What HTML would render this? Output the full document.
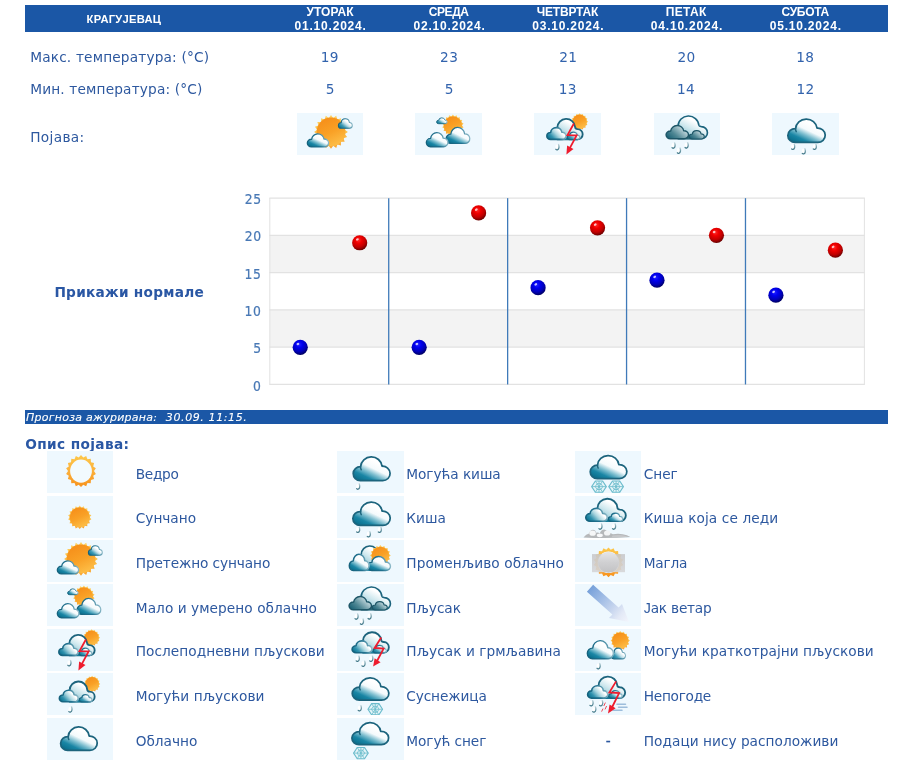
<!DOCTYPE html>
<html lang="sr"><head><meta charset="utf-8"><title>Прогноза - Крагујевац</title>
<style>
html,body{margin:0;padding:0;background:#fff;}
body{width:900px;height:768px;position:relative;overflow:hidden;
 font-family:"DejaVu Sans","Liberation Sans",sans-serif;color:#2d589f;}
.a{position:absolute;white-space:pre;}
.hdr{position:absolute;left:25px;top:5px;width:862.6px;height:27px;background:#1b57a6;}
.h{position:absolute;white-space:pre;color:#fff;font:bold 12px/13px "Liberation Sans",sans-serif;}
.t{font-size:13.7px;line-height:16px;}
.b{font-weight:bold;font-size:13.7px;line-height:16px;color:#2a57a4;}
.bar{position:absolute;left:25px;top:410px;width:862.6px;height:13.5px;background:#1b57a6;}
.bt{color:#fff;font-style:italic;font-size:11px;line-height:14px;-webkit-text-stroke:0.1px #fff;}
.ic{position:absolute;height:42.1px;background:#eef8fe;}
.is{position:absolute;width:66px;height:42px;}
.is svg{position:absolute;left:0;top:0;}
.yl{font-size:12.4px;line-height:14px;color:#4878b5;-webkit-text-stroke:0.2px #4878b5;transform:scaleY(1.1);transform-origin:center;}
</style></head>
<body>
<svg width="0" height="0" style="position:absolute;left:0;top:0" aria-hidden="true"><defs>
<linearGradient id="cg" x1="0.1" y1="0.92" x2="0.62" y2="0.22"><stop offset="0" stop-color="#0a6f8d"/><stop offset="0.25" stop-color="#1a86a5"/><stop offset="0.48" stop-color="#7fbfd0"/><stop offset="0.7" stop-color="#f4fafc"/><stop offset="1" stop-color="#fff"/></linearGradient>
<linearGradient id="cgf" x1="0" y1="0.8" x2="0.85" y2="0.3"><stop offset="0" stop-color="#0b7291"/><stop offset="0.25" stop-color="#2f91ad"/><stop offset="0.55" stop-color="#a9d5df"/><stop offset="0.85" stop-color="#fff"/></linearGradient>
<linearGradient id="cgs" x1="0.05" y1="0.85" x2="0.75" y2="0.25"><stop offset="0" stop-color="#0e7695"/><stop offset="0.3" stop-color="#3c9ab5"/><stop offset="0.6" stop-color="#c3e1ea"/><stop offset="0.85" stop-color="#fff"/></linearGradient>
<linearGradient id="cgb" x1="0.15" y1="0.9" x2="0.7" y2="0.1"><stop offset="0" stop-color="#86c3d2"/><stop offset="0.45" stop-color="#cfe8ee"/><stop offset="0.8" stop-color="#fff"/></linearGradient>
<linearGradient id="cgd" x1="0" y1="0.85" x2="0.9" y2="0.25"><stop offset="0" stop-color="#175f73"/><stop offset="0.4" stop-color="#4f8794"/><stop offset="0.8" stop-color="#a9c6cd"/><stop offset="1" stop-color="#c9dde2"/></linearGradient>
<linearGradient id="sg" x1="0.5" y1="0" x2="0.5" y2="1"><stop offset="0" stop-color="#f7921c"/><stop offset="0.45" stop-color="#faa528"/><stop offset="1" stop-color="#fec94e"/></linearGradient>
<linearGradient id="rg" x1="0.5" y1="0" x2="0.5" y2="1"><stop offset="0" stop-color="#fdc84a"/><stop offset="0.5" stop-color="#fbb03b"/><stop offset="1" stop-color="#f7921c"/></linearGradient>
<linearGradient id="cs" x1="0" y1="0.6" x2="1" y2="0.4"><stop offset="0" stop-color="#15627d"/><stop offset="0.55" stop-color="#227290"/><stop offset="0.85" stop-color="#6aa3b6"/><stop offset="1" stop-color="#9cc3d0"/></linearGradient>
<linearGradient id="sy" x1="0.5" y1="0" x2="0.5" y2="1"><stop offset="0" stop-color="#fdd164"/><stop offset="0.5" stop-color="#fcc24a"/><stop offset="1" stop-color="#f9a02b"/></linearGradient>
<linearGradient id="so" x1="0.25" y1="0.05" x2="0.7" y2="1"><stop offset="0" stop-color="#f68f1a"/><stop offset="0.5" stop-color="#f9a126"/><stop offset="1" stop-color="#fdc04a"/></linearGradient>
<linearGradient id="dg" x1="0.5" y1="0" x2="0.5" y2="1"><stop offset="0" stop-color="#b9d0d6"/><stop offset="0.45" stop-color="#7aa3af"/><stop offset="1" stop-color="#3f7686"/></linearGradient>
<linearGradient id="fg" x1="0" y1="0" x2="0" y2="1"><stop offset="0" stop-color="#c8c8ca"/><stop offset="1" stop-color="#d6d6d8"/></linearGradient>
<linearGradient id="fd" x1="0" y1="0" x2="0" y2="1"><stop offset="0" stop-color="#e6e6e8"/><stop offset="0.5" stop-color="#d0d0d2"/><stop offset="1" stop-color="#c2c2c4"/></linearGradient>
<linearGradient id="wg" gradientUnits="userSpaceOnUse" x1="14" y1="4" x2="54" y2="37"><stop offset="0" stop-color="#759fd9"/><stop offset="0.3" stop-color="#9dbae4"/><stop offset="0.6" stop-color="#c6d5ee"/><stop offset="0.8" stop-color="#e3e9f6"/><stop offset="1" stop-color="#f2f5fc"/></linearGradient>
<radialGradient id="gb" cx="0.42" cy="0.32" r="0.72"><stop offset="0" stop-color="#2020ff"/><stop offset="0.3" stop-color="#0000f0"/><stop offset="0.65" stop-color="#0000b8"/><stop offset="1" stop-color="#000050"/></radialGradient>
<radialGradient id="gr" cx="0.42" cy="0.32" r="0.72"><stop offset="0" stop-color="#ff2a2a"/><stop offset="0.3" stop-color="#f00000"/><stop offset="0.65" stop-color="#c00000"/><stop offset="1" stop-color="#5a0000"/></radialGradient>
</defs></svg>
<div class="hdr"></div>
<div id="city" class="a h" style="left:86.60px;top:13.2px;letter-spacing:0.245px;font-size:11.2px;">КРАГУЈЕВАЦ</div>
<div id="day0" class="a h" style="left:306.50px;top:5.8px;letter-spacing:0.050px;">УТОРАК</div>
<div id="date0" class="a h" style="left:294.50px;top:19.8px;letter-spacing:0.800px;">01.10.2024.</div>
<div id="mx0" class="a t" style="left:320.82px;top:48.8px;letter-spacing:0.350px;color:#3263ad;">19</div>
<div id="mn0" class="a t" style="left:325.75px;top:81.3px;letter-spacing:0.350px;color:#3263ad;">5</div>
<div class="ic" style="left:297.1px;top:113px;width:65.8px;"></div>
<div class="is" style="left:297px;top:113px;"><svg width="66" height="42" viewBox="0 0 66 42"><polygon points="34,2 36.19,5.05 39.22,2.83 40.37,6.4 43.93,5.23 43.92,8.98 47.67,8.97 46.5,12.53 50.07,13.68 47.85,16.71 50.9,18.9 47.85,21.09 50.07,24.12 46.5,25.27 47.67,28.83 43.92,28.82 43.93,32.57 40.37,31.4 39.22,34.97 36.19,32.75 34,35.8 31.81,32.75 28.78,34.97 27.63,31.4 24.07,32.57 24.08,28.82 20.33,28.83 21.5,25.27 17.93,24.12 20.15,21.09 17.1,18.9 20.15,16.71 17.93,13.68 21.5,12.53 20.33,8.97 24.08,8.98 24.07,5.23 27.63,6.4 28.78,2.83 31.81,5.05" fill="url(#sy)"/><circle cx="34" cy="18.9" r="14.36" fill="url(#so)"/><path d="M44.1,15.25A2.75,2.79 0 1 1 44.18,9.67A4.12,4.18 0 0 1 52.38,9.49A2.84,2.88 0 1 1 52.61,15.25Z" fill="url(#cgs)" stroke="url(#cs)" stroke-width="1.1" stroke-linejoin="round"/><path d="M14.56,33.95A4.11,3.85 0 1 1 14.68,26.26A6.16,5.77 0 0 1 26.96,26.01A4.25,3.98 0 1 1 27.3,33.95Z" fill="url(#cg)" stroke="url(#cs)" stroke-width="1.3" stroke-linejoin="round"/></svg></div>
<div id="day1" class="a h" style="left:428.85px;top:5.8px;letter-spacing:-0.463px;">СРЕДА</div>
<div id="date1" class="a h" style="left:413.50px;top:19.8px;letter-spacing:0.800px;">02.10.2024.</div>
<div id="mx1" class="a t" style="left:440.08px;top:48.8px;letter-spacing:0.350px;color:#3263ad;">23</div>
<div id="mn1" class="a t" style="left:444.75px;top:81.3px;letter-spacing:0.350px;color:#3263ad;">5</div>
<div class="ic" style="left:415.2px;top:113px;width:67.0px;"></div>
<div class="is" style="left:415.5px;top:113px;"><svg width="66" height="42" viewBox="0 0 66 42"><polygon points="36.9,1.6 38.46,3.57 40.59,2.25 41.38,4.64 43.84,4.13 43.77,6.64 46.25,7 45.32,9.33 47.54,10.52 45.86,12.4 47.54,14.28 45.32,15.47 46.25,17.8 43.77,18.16 43.84,20.67 41.38,20.16 40.59,22.55 38.46,21.23 36.9,23.2 35.34,21.23 33.21,22.55 32.42,20.16 29.96,20.67 30.03,18.16 27.55,17.8 28.48,15.47 26.26,14.28 27.94,12.4 26.26,10.52 28.48,9.33 27.55,7 30.03,6.64 29.96,4.13 32.42,4.64 33.21,2.25 35.34,3.57" fill="url(#sy)"/><circle cx="36.9" cy="12.4" r="9.18" fill="url(#so)"/><path d="M22.66,10.7A2.06,1.73 0 1 1 22.73,7.24A3.1,2.6 0 0 1 28.9,7.12A2.13,1.79 0 1 1 29.07,10.7Z" fill="url(#cgs)" stroke="url(#cs)" stroke-width="1" stroke-linejoin="round"/><path d="M34.67,30.45A4.62,4.67 0 1 1 34.8,21.11A6.92,7 0 0 1 48.6,20.81A4.77,4.83 0 1 1 48.98,30.45Z" fill="url(#cg)" stroke="url(#cs)" stroke-width="1.3" stroke-linejoin="round"/><path d="M14.48,33.75A4.23,4.14 0 1 1 14.6,25.47A6.34,6.21 0 0 1 27.23,25.2A4.37,4.28 0 1 1 27.58,33.75Z" fill="url(#cg)" stroke="url(#cs)" stroke-width="1.3" stroke-linejoin="round"/></svg></div>
<div id="day2" class="a h" style="left:536.70px;top:5.8px;letter-spacing:-0.179px;">ЧЕТВРТАК</div>
<div id="date2" class="a h" style="left:532.20px;top:19.8px;letter-spacing:0.800px;">03.10.2024.</div>
<div id="mx2" class="a t" style="left:559.14px;top:48.8px;letter-spacing:0.350px;color:#3263ad;">21</div>
<div id="mn2" class="a t" style="left:558.64px;top:81.3px;letter-spacing:0.350px;color:#3263ad;">13</div>
<div class="ic" style="left:534.3px;top:113px;width:66.3px;"></div>
<div class="is" style="left:534.7px;top:113px;"><svg width="66" height="42" viewBox="0 0 66 42"><polygon points="44.6,0.3 45.96,1.86 47.81,0.94 48.47,2.9 50.54,2.76 50.4,4.83 52.36,5.49 51.44,7.34 53,8.7 51.44,10.06 52.36,11.91 50.4,12.57 50.54,14.64 48.47,14.5 47.81,16.46 45.96,15.54 44.6,17.1 43.24,15.54 41.39,16.46 40.73,14.5 38.66,14.64 38.8,12.57 36.84,11.91 37.76,10.06 36.2,8.7 37.76,7.34 36.84,5.49 38.8,4.83 38.66,2.76 40.73,2.9 41.39,0.94 43.24,1.86" fill="url(#sy)"/><circle cx="44.6" cy="8.7" r="7.14" fill="url(#so)"/><path d="M22.3,26.28L22.3,14.71A8.93,8.89 0 0 1 40.13,14.09Q40.33,15.99 42.58,16.09A5.09,5.09 0 0 1 42.58,26.28Z" fill="url(#cgb)" stroke="#1c647d" stroke-width="1.85" stroke-linejoin="round"/><rect x="22.28" y="22.74" width="18.8" height="4.16" fill="#15809f"/><path d="M34.63,26.56A2.5,2.18 0 1 1 34.7,22.2A3.74,3.27 0 0 1 42.16,22.06A2.58,2.25 0 1 1 42.37,26.56Z" fill="url(#cgs)" stroke="url(#cs)" stroke-width="1.28" stroke-linejoin="round"/><path d="M15.55,26.4A3.75,3.46 0 1 1 15.66,19.48A5.63,5.19 0 0 1 26.88,19.26A3.88,3.58 0 1 1 27.19,26.4Z" fill="url(#cgf)" stroke="url(#cs)" stroke-width="1.6" stroke-linejoin="round"/><ellipse cx="21.9" cy="34" rx="1.5" ry="2.4" fill="#fff" opacity="0.95"/><path d="M23.6,31.5C24.3,33.4 24.3,36.4 22.4,36.8C21.7,36.9 21.2,36.7 20.9,36.3" fill="none" stroke="url(#dg)" stroke-width="1.3" stroke-linecap="round"/><path d="M38.9,10.5L32.5,22.1L41.6,22.3L34.82,35.08" fill="none" stroke="#ee1c2e" stroke-width="1.8" stroke-linejoin="miter"/><polygon points="31.4,41.4 32.13,32.49 38.47,35.91" fill="#ee1c2e"/></svg></div>
<div id="day3" class="a h" style="left:665.85px;top:5.8px;letter-spacing:0.312px;">ПЕТАК</div>
<div id="date3" class="a h" style="left:650.85px;top:19.8px;letter-spacing:0.800px;">04.10.2024.</div>
<div id="mx3" class="a t" style="left:677.55px;top:48.8px;letter-spacing:0.350px;color:#3263ad;">20</div>
<div id="mn3" class="a t" style="left:677.06px;top:81.3px;letter-spacing:0.350px;color:#3263ad;">14</div>
<div class="ic" style="left:653.9px;top:113px;width:66.1px;"></div>
<div class="is" style="left:654px;top:113px;"><svg width="66" height="42" viewBox="0 0 66 42"><path d="M24.12,25.68L24.12,12.84A10.38,9.91 0 0 1 44.85,12.14Q45.05,13.54 47.41,13.64A6.01,6.01 0 0 1 47.41,25.68Z" fill="url(#cgb)" stroke="#1c647d" stroke-width="1.65" stroke-linejoin="round"/><rect x="24.32" y="21.62" width="21.38" height="4.58" fill="#2a6676"/><path d="M38.26,25.94A2.9,2.47 0 1 1 38.35,21.01A4.36,3.7 0 0 1 47.03,20.85A3,2.55 0 1 1 47.27,25.94Z" fill="url(#cgd)" stroke="#1d5566" stroke-width="1.12" stroke-linejoin="round"/><path d="M16.55,25.8A4.35,3.89 0 1 1 16.68,18.03A6.52,5.83 0 0 1 29.67,17.77A4.49,4.02 0 1 1 30.03,25.8Z" fill="url(#cgd)" stroke="#1d5566" stroke-width="1.4" stroke-linejoin="round"/><ellipse cx="19" cy="32.4" rx="1.5" ry="2.4" fill="#fff" opacity="0.95"/><path d="M20.7,29.9C21.4,31.8 21.4,34.8 19.5,35.2C18.8,35.3 18.3,35.1 18,34.7" fill="none" stroke="url(#dg)" stroke-width="1.3" stroke-linecap="round"/><ellipse cx="24.4" cy="37.5" rx="1.5" ry="2.4" fill="#fff" opacity="0.95"/><path d="M26.1,35C26.8,36.9 26.8,39.9 24.9,40.3C24.2,40.4 23.7,40.2 23.4,39.8" fill="none" stroke="url(#dg)" stroke-width="1.3" stroke-linecap="round"/><ellipse cx="32.1" cy="32.2" rx="1.5" ry="2.4" fill="#fff" opacity="0.95"/><path d="M33.8,29.7C34.5,31.6 34.5,34.6 32.6,35C31.9,35.1 31.4,34.9 31.1,34.5" fill="none" stroke="url(#dg)" stroke-width="1.3" stroke-linecap="round"/></svg></div>
<div id="day4" class="a h" style="left:781.45px;top:5.8px;letter-spacing:-0.300px;">СУБОТА</div>
<div id="date4" class="a h" style="left:769.70px;top:19.8px;letter-spacing:0.800px;">05.10.2024.</div>
<div id="mx4" class="a t" style="left:796.14px;top:48.8px;letter-spacing:0.350px;color:#3263ad;">18</div>
<div id="mn4" class="a t" style="left:796.40px;top:81.3px;letter-spacing:0.350px;color:#3263ad;">12</div>
<div class="ic" style="left:771.8px;top:113px;width:67.3px;"></div>
<div class="is" style="left:772px;top:113px;"><svg width="66" height="42" viewBox="0 0 66 42"><path d="M23.33,29.42A7.21,6.89 0 1 1 23.55,15.66A10.81,10.33 0 0 1 45.08,15.21A7.45,7.12 0 1 1 45.68,29.42Z" fill="url(#cg)" stroke="#1c647d" stroke-width="1.75" stroke-linejoin="round"/><path d="M23.55,15.66q-0.1,1.68 0.68,2.98" fill="none" stroke="#1c647d" stroke-width="1.49" stroke-linecap="round"/><ellipse cx="20.6" cy="33.6" rx="1.5" ry="2.4" fill="#fff" opacity="0.95"/><path d="M22.3,31.1C23,33 23,36 21.1,36.4C20.4,36.5 19.9,36.3 19.6,35.9" fill="none" stroke="url(#dg)" stroke-width="1.3" stroke-linecap="round"/><ellipse cx="31.25" cy="38.1" rx="1.5" ry="2.4" fill="#fff" opacity="0.95"/><path d="M32.95,35.6C33.65,37.5 33.65,40.5 31.75,40.9C31.05,41 30.55,40.8 30.25,40.4" fill="none" stroke="url(#dg)" stroke-width="1.3" stroke-linecap="round"/><ellipse cx="42.25" cy="33.6" rx="1.5" ry="2.4" fill="#fff" opacity="0.95"/><path d="M43.95,31.1C44.65,33 44.65,36 42.75,36.4C42.05,36.5 41.55,36.3 41.25,35.9" fill="none" stroke="url(#dg)" stroke-width="1.3" stroke-linecap="round"/></svg></div>
<div id="max" class="a t" style="left:30.20px;top:48.8px;letter-spacing:0.171px;">Макс. температура: (°C)</div>
<div id="min" class="a t" style="left:30.20px;top:81.3px;letter-spacing:0.163px;">Мин. температура: (°C)</div>
<div id="pojava" class="a t" style="left:30.20px;top:128.7px;letter-spacing:0.333px;">Појава:</div>
<svg class="a" style="left:0;top:180px;" width="900" height="220" viewBox="0 180 900 220">
<rect x="269.8" y="198.15" width="594.6" height="186.3" fill="#fff"/>
<rect x="269.8" y="235.41" width="594.6" height="37.26" fill="#f3f3f3"/>
<rect x="269.8" y="309.93" width="594.6" height="37.26" fill="#f3f3f3"/>
<line x1="269.3" y1="198.15" x2="864.9000000000001" y2="198.15" stroke="#e2e2e2" stroke-width="1.2"/>
<line x1="269.3" y1="235.41" x2="864.9000000000001" y2="235.41" stroke="#e2e2e2" stroke-width="1.2"/>
<line x1="269.3" y1="272.67" x2="864.9000000000001" y2="272.67" stroke="#e2e2e2" stroke-width="1.2"/>
<line x1="269.3" y1="309.93" x2="864.9000000000001" y2="309.93" stroke="#e2e2e2" stroke-width="1.2"/>
<line x1="269.3" y1="347.19" x2="864.9000000000001" y2="347.19" stroke="#e2e2e2" stroke-width="1.2"/>
<line x1="269.3" y1="384.45" x2="864.9000000000001" y2="384.45" stroke="#e2e2e2" stroke-width="1.2"/>
<line x1="269.8" y1="198.15" x2="269.8" y2="384.45000000000005" stroke="#e2e2e2" stroke-width="1"/>
<line x1="864.4000000000001" y1="198.15" x2="864.4000000000001" y2="384.45000000000005" stroke="#e2e2e2" stroke-width="1"/>
<line x1="388.72" y1="198.15" x2="388.72" y2="384.45000000000005" stroke="#3f7ab9" stroke-width="1.3"/>
<line x1="507.64" y1="198.15" x2="507.64" y2="384.45000000000005" stroke="#3f7ab9" stroke-width="1.3"/>
<line x1="626.56" y1="198.15" x2="626.56" y2="384.45000000000005" stroke="#3f7ab9" stroke-width="1.3"/>
<line x1="745.48" y1="198.15" x2="745.48" y2="384.45000000000005" stroke="#3f7ab9" stroke-width="1.3"/>
<circle cx="300.23" cy="347.29" r="7.6" fill="url(#gb)"/><ellipse cx="297.93" cy="343.99" rx="1.5" ry="1.1" fill="#fff" opacity="0.75" transform="rotate(-35 297.93 343.99)"/>
<circle cx="359.69" cy="242.76" r="7.6" fill="url(#gr)"/><ellipse cx="357.39" cy="239.46" rx="1.5" ry="1.1" fill="#fff" opacity="0.75" transform="rotate(-35 357.39 239.46)"/>
<circle cx="419.15" cy="347.29" r="7.6" fill="url(#gb)"/><ellipse cx="416.85" cy="343.99" rx="1.5" ry="1.1" fill="#fff" opacity="0.75" transform="rotate(-35 416.85 343.99)"/>
<circle cx="478.61" cy="212.95" r="7.6" fill="url(#gr)"/><ellipse cx="476.31" cy="209.65" rx="1.5" ry="1.1" fill="#fff" opacity="0.75" transform="rotate(-35 476.31 209.65)"/>
<circle cx="538.07" cy="287.67" r="7.6" fill="url(#gb)"/><ellipse cx="535.77" cy="284.37" rx="1.5" ry="1.1" fill="#fff" opacity="0.75" transform="rotate(-35 535.77 284.37)"/>
<circle cx="597.53" cy="227.86" r="7.6" fill="url(#gr)"/><ellipse cx="595.23" cy="224.56" rx="1.5" ry="1.1" fill="#fff" opacity="0.75" transform="rotate(-35 595.23 224.56)"/>
<circle cx="656.99" cy="280.22" r="7.6" fill="url(#gb)"/><ellipse cx="654.69" cy="276.92" rx="1.5" ry="1.1" fill="#fff" opacity="0.75" transform="rotate(-35 654.69 276.92)"/>
<circle cx="716.45" cy="235.31" r="7.6" fill="url(#gr)"/><ellipse cx="714.15" cy="232.01" rx="1.5" ry="1.1" fill="#fff" opacity="0.75" transform="rotate(-35 714.15 232.01)"/>
<circle cx="775.91" cy="295.13" r="7.6" fill="url(#gb)"/><ellipse cx="773.61" cy="291.83" rx="1.5" ry="1.1" fill="#fff" opacity="0.75" transform="rotate(-35 773.61 291.83)"/>
<circle cx="835.37" cy="250.21" r="7.6" fill="url(#gr)"/><ellipse cx="833.07" cy="246.91" rx="1.5" ry="1.1" fill="#fff" opacity="0.75" transform="rotate(-35 833.07 246.91)"/>
</svg>
<div id="y25" class="a yl" style="left:244.82px;top:193.2px;letter-spacing:0.600px;">25</div>
<div id="y20" class="a yl" style="left:244.70px;top:230.4px;letter-spacing:0.600px;">20</div>
<div id="y15" class="a yl" style="left:244.58px;top:267.7px;letter-spacing:0.600px;">15</div>
<div id="y10" class="a yl" style="left:244.45px;top:304.9px;letter-spacing:0.600px;">10</div>
<div id="y5" class="a yl" style="left:253.20px;top:342.2px;letter-spacing:0.600px;">5</div>
<div id="y0" class="a yl" style="left:253.08px;top:379.5px;letter-spacing:0.600px;">0</div>
<div id="normale" class="a b" style="left:54.40px;top:283.8px;letter-spacing:0.265px;">Прикажи нормале</div>
<div class="bar"></div>
<div id="bar" class="a bt" style="left:26.05px;top:411.2px;letter-spacing:0.246px;">Прогноза ажурирана:</div>
<div id="bar2" class="a bt" style="left:165.85px;top:411.2px;letter-spacing:0.605px;">30.09. 11:15.</div>
<div id="opis" class="a b" style="left:25.25px;top:435.5px;letter-spacing:0.368px;">Опис појава:</div>
<div class="ic" style="left:46.8px;top:451.0px;width:66.4px;"></div>
<div class="is" style="left:47px;top:451.0px;"><svg width="66" height="42" viewBox="0 0 66 42"><g transform="translate(34 20.1) scale(1 1.06) translate(-34 -20.1)"><polygon points="34,5 36.25,7.31 39.16,5.91 40.49,8.85 43.71,8.53 43.95,11.75 47.08,12.55 46.2,15.66 48.87,17.48 46.99,20.1 48.87,22.72 46.2,24.54 47.08,27.65 43.95,28.45 43.71,31.67 40.49,31.35 39.16,34.29 36.25,32.89 34,35.2 31.75,32.89 28.84,34.29 27.51,31.35 24.29,31.67 24.05,28.45 20.92,27.65 21.8,24.54 19.13,22.72 21.01,20.1 19.13,17.48 21.8,15.66 20.92,12.55 24.05,11.75 24.29,8.53 27.51,8.85 28.84,5.91 31.75,7.31" fill="url(#rg)"/><circle cx="34" cy="20.1" r="10.9" fill="#f2fafe"/></g></svg></div>
<div id="l00" class="a t" style="left:135.80px;top:465.7px;letter-spacing:-0.318px;">Ведро</div>
<div class="ic" style="left:46.8px;top:495.6px;width:66.4px;"></div>
<div class="is" style="left:47px;top:495.6px;"><svg width="66" height="42" viewBox="0 0 66 42"><polygon points="32.75,9.5 34.45,11.65 36.79,10.21 37.65,12.82 40.33,12.26 40.25,15 42.97,15.4 41.95,17.95 44.37,19.25 42.54,21.3 44.37,23.35 41.95,24.65 42.97,27.2 40.25,27.6 40.33,30.34 37.65,29.78 36.79,32.39 34.45,30.95 32.75,33.1 31.05,30.95 28.71,32.39 27.85,29.78 25.17,30.34 25.25,27.6 22.53,27.2 23.55,24.65 21.13,23.35 22.96,21.3 21.13,19.25 23.55,17.95 22.53,15.4 25.25,15 25.17,12.26 27.85,12.82 28.71,10.21 31.05,11.65" fill="url(#sy)"/><circle cx="32.75" cy="21.3" r="10.03" fill="url(#so)"/></svg></div>
<div id="l01" class="a t" style="left:135.80px;top:510.1px;letter-spacing:-0.030px;">Сунчано</div>
<div class="ic" style="left:46.8px;top:540.3px;width:66.4px;"></div>
<div class="is" style="left:47px;top:540.3px;"><svg width="66" height="42" viewBox="0 0 66 42"><polygon points="34,2 36.19,5.05 39.22,2.83 40.37,6.4 43.93,5.23 43.92,8.98 47.67,8.97 46.5,12.53 50.07,13.68 47.85,16.71 50.9,18.9 47.85,21.09 50.07,24.12 46.5,25.27 47.67,28.83 43.92,28.82 43.93,32.57 40.37,31.4 39.22,34.97 36.19,32.75 34,35.8 31.81,32.75 28.78,34.97 27.63,31.4 24.07,32.57 24.08,28.82 20.33,28.83 21.5,25.27 17.93,24.12 20.15,21.09 17.1,18.9 20.15,16.71 17.93,13.68 21.5,12.53 20.33,8.97 24.08,8.98 24.07,5.23 27.63,6.4 28.78,2.83 31.81,5.05" fill="url(#sy)"/><circle cx="34" cy="18.9" r="14.36" fill="url(#so)"/><path d="M44.1,15.25A2.75,2.79 0 1 1 44.18,9.67A4.12,4.18 0 0 1 52.38,9.49A2.84,2.88 0 1 1 52.61,15.25Z" fill="url(#cgs)" stroke="url(#cs)" stroke-width="1.1" stroke-linejoin="round"/><path d="M14.56,33.95A4.11,3.85 0 1 1 14.68,26.26A6.16,5.77 0 0 1 26.96,26.01A4.25,3.98 0 1 1 27.3,33.95Z" fill="url(#cg)" stroke="url(#cs)" stroke-width="1.3" stroke-linejoin="round"/></svg></div>
<div id="l02" class="a t" style="left:135.80px;top:555.1px;letter-spacing:-0.111px;">Претежно сунчано</div>
<div class="ic" style="left:46.8px;top:584.0px;width:66.4px;"></div>
<div class="is" style="left:47px;top:584.0px;"><svg width="66" height="42" viewBox="0 0 66 42"><polygon points="36.9,1.6 38.46,3.57 40.59,2.25 41.38,4.64 43.84,4.13 43.77,6.64 46.25,7 45.32,9.33 47.54,10.52 45.86,12.4 47.54,14.28 45.32,15.47 46.25,17.8 43.77,18.16 43.84,20.67 41.38,20.16 40.59,22.55 38.46,21.23 36.9,23.2 35.34,21.23 33.21,22.55 32.42,20.16 29.96,20.67 30.03,18.16 27.55,17.8 28.48,15.47 26.26,14.28 27.94,12.4 26.26,10.52 28.48,9.33 27.55,7 30.03,6.64 29.96,4.13 32.42,4.64 33.21,2.25 35.34,3.57" fill="url(#sy)"/><circle cx="36.9" cy="12.4" r="9.18" fill="url(#so)"/><path d="M22.66,10.7A2.06,1.73 0 1 1 22.73,7.24A3.1,2.6 0 0 1 28.9,7.12A2.13,1.79 0 1 1 29.07,10.7Z" fill="url(#cgs)" stroke="url(#cs)" stroke-width="1" stroke-linejoin="round"/><path d="M34.67,30.45A4.62,4.67 0 1 1 34.8,21.11A6.92,7 0 0 1 48.6,20.81A4.77,4.83 0 1 1 48.98,30.45Z" fill="url(#cg)" stroke="url(#cs)" stroke-width="1.3" stroke-linejoin="round"/><path d="M14.48,33.75A4.23,4.14 0 1 1 14.6,25.47A6.34,6.21 0 0 1 27.23,25.2A4.37,4.28 0 1 1 27.58,33.75Z" fill="url(#cg)" stroke="url(#cs)" stroke-width="1.3" stroke-linejoin="round"/></svg></div>
<div id="l03" class="a t" style="left:135.80px;top:599.7px;letter-spacing:0.053px;">Мало и умерено облачно</div>
<div class="ic" style="left:46.8px;top:628.6px;width:66.4px;"></div>
<div class="is" style="left:47px;top:628.6px;"><svg width="66" height="42" viewBox="0 0 66 42"><polygon points="44.6,0.3 45.96,1.86 47.81,0.94 48.47,2.9 50.54,2.76 50.4,4.83 52.36,5.49 51.44,7.34 53,8.7 51.44,10.06 52.36,11.91 50.4,12.57 50.54,14.64 48.47,14.5 47.81,16.46 45.96,15.54 44.6,17.1 43.24,15.54 41.39,16.46 40.73,14.5 38.66,14.64 38.8,12.57 36.84,11.91 37.76,10.06 36.2,8.7 37.76,7.34 36.84,5.49 38.8,4.83 38.66,2.76 40.73,2.9 41.39,0.94 43.24,1.86" fill="url(#sy)"/><circle cx="44.6" cy="8.7" r="7.14" fill="url(#so)"/><path d="M22.3,26.28L22.3,14.71A8.93,8.89 0 0 1 40.13,14.09Q40.33,15.99 42.58,16.09A5.09,5.09 0 0 1 42.58,26.28Z" fill="url(#cgb)" stroke="#1c647d" stroke-width="1.85" stroke-linejoin="round"/><rect x="22.28" y="22.74" width="18.8" height="4.16" fill="#15809f"/><path d="M34.63,26.56A2.5,2.18 0 1 1 34.7,22.2A3.74,3.27 0 0 1 42.16,22.06A2.58,2.25 0 1 1 42.37,26.56Z" fill="url(#cgs)" stroke="url(#cs)" stroke-width="1.28" stroke-linejoin="round"/><path d="M15.55,26.4A3.75,3.46 0 1 1 15.66,19.48A5.63,5.19 0 0 1 26.88,19.26A3.88,3.58 0 1 1 27.19,26.4Z" fill="url(#cgf)" stroke="url(#cs)" stroke-width="1.6" stroke-linejoin="round"/><ellipse cx="21.9" cy="34" rx="1.5" ry="2.4" fill="#fff" opacity="0.95"/><path d="M23.6,31.5C24.3,33.4 24.3,36.4 22.4,36.8C21.7,36.9 21.2,36.7 20.9,36.3" fill="none" stroke="url(#dg)" stroke-width="1.3" stroke-linecap="round"/><path d="M38.9,10.5L32.5,22.1L41.6,22.3L34.82,35.08" fill="none" stroke="#ee1c2e" stroke-width="1.8" stroke-linejoin="miter"/><polygon points="31.4,41.4 32.13,32.49 38.47,35.91" fill="#ee1c2e"/></svg></div>
<div id="l04" class="a t" style="left:135.80px;top:643.4px;letter-spacing:0.029px;">Послеподневни пљускови</div>
<div class="ic" style="left:46.8px;top:673.2px;width:66.4px;"></div>
<div class="is" style="left:47px;top:673.2px;"><svg width="66" height="42" viewBox="0 0 66 42"><polygon points="45.1,2.8 46.41,4.31 48.2,3.42 48.84,5.31 50.83,5.17 50.69,7.16 52.58,7.8 51.69,9.59 53.2,10.9 51.69,12.21 52.58,14 50.69,14.64 50.83,16.63 48.84,16.49 48.2,18.38 46.41,17.49 45.1,19 43.79,17.49 42,18.38 41.36,16.49 39.37,16.63 39.51,14.64 37.62,14 38.51,12.21 37,10.9 38.51,9.59 37.62,7.8 39.51,7.16 39.37,5.17 41.36,5.31 42,3.42 43.79,4.31" fill="url(#sy)"/><circle cx="45.1" cy="10.9" r="6.88" fill="url(#so)"/><path d="M22.66,28.68L22.66,17.22A8.8,8.8 0 0 1 40.23,16.61Q40.43,18.55 42.66,18.65A5.01,5.01 0 0 1 42.66,28.68Z" fill="url(#cgb)" stroke="#1c647d" stroke-width="1.85" stroke-linejoin="round"/><rect x="22.63" y="25.18" width="18.55" height="4.12" fill="#15809f"/><path d="M34.82,28.96A2.46,2.16 0 1 1 34.89,24.65A3.69,3.23 0 0 1 42.25,24.51A2.54,2.23 0 1 1 42.45,28.96Z" fill="url(#cgs)" stroke="url(#cs)" stroke-width="1.28" stroke-linejoin="round"/><path d="M16,28.8A3.7,3.42 0 1 1 16.11,21.95A5.55,5.14 0 0 1 27.16,21.73A3.82,3.54 0 1 1 27.47,28.8Z" fill="url(#cgf)" stroke="url(#cs)" stroke-width="1.6" stroke-linejoin="round"/><ellipse cx="22.9" cy="36.3" rx="1.5" ry="2.4" fill="#fff" opacity="0.95"/><path d="M24.6,33.8C25.3,35.7 25.3,38.7 23.4,39.1C22.7,39.2 22.2,39 21.9,38.6" fill="none" stroke="url(#dg)" stroke-width="1.3" stroke-linecap="round"/></svg></div>
<div id="l05" class="a t" style="left:135.80px;top:687.6px;letter-spacing:0.030px;">Могући пљускови</div>
<div class="ic" style="left:46.8px;top:718.0px;width:66.4px;"></div>
<div class="is" style="left:47px;top:718.0px;"><svg width="66" height="42" viewBox="0 0 66 42"><path d="M20.93,32.42A7.06,6.92 0 1 1 21.15,18.6A10.59,10.37 0 0 1 42.24,18.15A7.3,7.15 0 1 1 42.83,32.42Z" fill="url(#cg)" stroke="#1c647d" stroke-width="1.75" stroke-linejoin="round"/><path d="M21.15,18.6q-0.1,1.68 0.67,2.99" fill="none" stroke="#1c647d" stroke-width="1.49" stroke-linecap="round"/></svg></div>
<div id="l06" class="a t" style="left:135.80px;top:732.9px;letter-spacing:-0.036px;">Облачно</div>
<div class="ic" style="left:336.8px;top:451.0px;width:67.4px;"></div>
<div class="is" style="left:337px;top:451.0px;"><svg width="66" height="42" viewBox="0 0 66 42"><path d="M23.33,29.73A7.21,7 0 1 1 23.55,15.72A10.81,10.51 0 0 1 45.08,15.27A7.45,7.24 0 1 1 45.68,29.73Z" fill="url(#cg)" stroke="#1c647d" stroke-width="1.75" stroke-linejoin="round"/><path d="M23.55,15.72q-0.1,1.7 0.68,3.03" fill="none" stroke="#1c647d" stroke-width="1.49" stroke-linecap="round"/><ellipse cx="20.6" cy="35.4" rx="1.5" ry="2.4" fill="#fff" opacity="0.95"/><path d="M22.3,32.9C23,34.8 23,37.8 21.1,38.2C20.4,38.3 19.9,38.1 19.6,37.7" fill="none" stroke="url(#dg)" stroke-width="1.3" stroke-linecap="round"/></svg></div>
<div id="l10" class="a t" style="left:406.30px;top:465.7px;letter-spacing:-0.075px;">Могућа киша</div>
<div class="ic" style="left:336.8px;top:495.6px;width:67.4px;"></div>
<div class="is" style="left:337px;top:495.6px;"><svg width="66" height="42" viewBox="0 0 66 42"><path d="M23.33,29.42A7.21,6.89 0 1 1 23.55,15.66A10.81,10.33 0 0 1 45.08,15.21A7.45,7.12 0 1 1 45.68,29.42Z" fill="url(#cg)" stroke="#1c647d" stroke-width="1.75" stroke-linejoin="round"/><path d="M23.55,15.66q-0.1,1.68 0.68,2.98" fill="none" stroke="#1c647d" stroke-width="1.49" stroke-linecap="round"/><ellipse cx="20.6" cy="33.6" rx="1.5" ry="2.4" fill="#fff" opacity="0.95"/><path d="M22.3,31.1C23,33 23,36 21.1,36.4C20.4,36.5 19.9,36.3 19.6,35.9" fill="none" stroke="url(#dg)" stroke-width="1.3" stroke-linecap="round"/><ellipse cx="31.25" cy="38.1" rx="1.5" ry="2.4" fill="#fff" opacity="0.95"/><path d="M32.95,35.6C33.65,37.5 33.65,40.5 31.75,40.9C31.05,41 30.55,40.8 30.25,40.4" fill="none" stroke="url(#dg)" stroke-width="1.3" stroke-linecap="round"/><ellipse cx="42.25" cy="33.6" rx="1.5" ry="2.4" fill="#fff" opacity="0.95"/><path d="M43.95,31.1C44.65,33 44.65,36 42.75,36.4C42.05,36.5 41.55,36.3 41.25,35.9" fill="none" stroke="url(#dg)" stroke-width="1.3" stroke-linecap="round"/></svg></div>
<div id="l11" class="a t" style="left:406.30px;top:510.1px;letter-spacing:-0.006px;">Киша</div>
<div class="ic" style="left:336.8px;top:540.3px;width:67.4px;"></div>
<div class="is" style="left:337px;top:540.3px;"><svg width="66" height="42" viewBox="0 0 66 42"><path d="M24.21,28.25L24.21,14.66A8.61,8.61 0 0 1 41.41,14.06Q41.61,18.26 43.66,18.36A4.95,4.95 0 0 1 43.66,28.25Z" fill="url(#cgb)" stroke="#1c647d" stroke-width="1.6" stroke-linejoin="round"/><polygon points="43.4,5.1 45.07,7.02 47.34,5.88 48.15,8.29 50.68,8.12 50.51,10.65 52.92,11.46 51.78,13.73 53.7,15.4 51.78,17.07 52.92,19.34 50.51,20.15 50.68,22.68 48.15,22.51 47.34,24.92 45.07,23.78 43.4,25.7 41.73,23.78 39.46,24.92 38.65,22.51 36.12,22.68 36.29,20.15 33.88,19.34 35.02,17.07 33.1,15.4 35.02,13.73 33.88,11.46 36.29,10.65 36.12,8.12 38.65,8.29 39.46,5.88 41.73,7.02" fill="url(#sy)"/><circle cx="43.4" cy="15.4" r="8.76" fill="url(#so)"/><rect x="24.32" y="25.95" width="17.1" height="4.9" fill="#15809f"/><path d="M34.71,30.55A4.56,4.1 0 1 1 34.85,22.35A6.83,6.15 0 0 1 48.46,22.08A4.71,4.24 0 1 1 48.84,30.55Z" fill="url(#cg)" stroke="url(#cs)" stroke-width="1.4" stroke-linejoin="round"/><path d="M16.12,30.5A3.87,4.77 0 1 1 16.24,20.96A5.81,7.16 0 0 1 27.8,20.65A4,4.93 0 1 1 28.12,30.5Z" fill="url(#cg)" stroke="url(#cs)" stroke-width="1.5" stroke-linejoin="round"/></svg></div>
<div id="l12" class="a t" style="left:406.30px;top:555.1px;letter-spacing:0.073px;">Променљиво облачно</div>
<div class="ic" style="left:336.8px;top:584.0px;width:67.4px;"></div>
<div class="is" style="left:337px;top:584.0px;"><svg width="66" height="42" viewBox="0 0 66 42"><path d="M24.12,25.68L24.12,12.84A10.38,9.91 0 0 1 44.85,12.14Q45.05,13.54 47.41,13.64A6.01,6.01 0 0 1 47.41,25.68Z" fill="url(#cgb)" stroke="#1c647d" stroke-width="1.65" stroke-linejoin="round"/><rect x="24.32" y="21.62" width="21.38" height="4.58" fill="#2a6676"/><path d="M38.26,25.94A2.9,2.47 0 1 1 38.35,21.01A4.36,3.7 0 0 1 47.03,20.85A3,2.55 0 1 1 47.27,25.94Z" fill="url(#cgd)" stroke="#1d5566" stroke-width="1.12" stroke-linejoin="round"/><path d="M16.55,25.8A4.35,3.89 0 1 1 16.68,18.03A6.52,5.83 0 0 1 29.67,17.77A4.49,4.02 0 1 1 30.03,25.8Z" fill="url(#cgd)" stroke="#1d5566" stroke-width="1.4" stroke-linejoin="round"/><ellipse cx="19" cy="32.4" rx="1.5" ry="2.4" fill="#fff" opacity="0.95"/><path d="M20.7,29.9C21.4,31.8 21.4,34.8 19.5,35.2C18.8,35.3 18.3,35.1 18,34.7" fill="none" stroke="url(#dg)" stroke-width="1.3" stroke-linecap="round"/><ellipse cx="24.4" cy="37.5" rx="1.5" ry="2.4" fill="#fff" opacity="0.95"/><path d="M26.1,35C26.8,36.9 26.8,39.9 24.9,40.3C24.2,40.4 23.7,40.2 23.4,39.8" fill="none" stroke="url(#dg)" stroke-width="1.3" stroke-linecap="round"/><ellipse cx="32.1" cy="32.2" rx="1.5" ry="2.4" fill="#fff" opacity="0.95"/><path d="M33.8,29.7C34.5,31.6 34.5,34.6 32.6,35C31.9,35.1 31.4,34.9 31.1,34.5" fill="none" stroke="url(#dg)" stroke-width="1.3" stroke-linecap="round"/></svg></div>
<div id="l13" class="a t" style="left:406.30px;top:599.7px;letter-spacing:-0.050px;">Пљусак</div>
<div class="ic" style="left:336.8px;top:628.6px;width:67.4px;"></div>
<div class="is" style="left:337px;top:628.6px;"><svg width="66" height="42" viewBox="0 0 66 42"><path d="M25.87,23.57L25.87,12.04A9.23,8.87 0 0 1 44.3,11.42Q44.5,12.92 46.8,13.02A5.28,5.28 0 0 1 46.8,23.57Z" fill="url(#cgb)" stroke="#1c647d" stroke-width="1.85" stroke-linejoin="round"/><rect x="25.88" y="20.05" width="19.38" height="4.15" fill="#15809f"/><path d="M38.59,23.86A2.58,2.17 0 1 1 38.67,19.52A3.87,3.26 0 0 1 46.38,19.38A2.67,2.25 0 1 1 46.59,23.86Z" fill="url(#cgs)" stroke="url(#cs)" stroke-width="1.28" stroke-linejoin="round"/><path d="M18.93,23.7A3.88,3.45 0 1 1 19.04,16.8A5.81,5.18 0 0 1 30.63,16.58A4.01,3.57 0 1 1 30.95,23.7Z" fill="url(#cgf)" stroke="url(#cs)" stroke-width="1.6" stroke-linejoin="round"/><ellipse cx="20.25" cy="29.55" rx="1.5" ry="2.4" fill="#fff" opacity="0.95"/><path d="M21.95,27.05C22.65,28.95 22.65,31.95 20.75,32.35C20.05,32.45 19.55,32.25 19.25,31.85" fill="none" stroke="url(#dg)" stroke-width="1.3" stroke-linecap="round"/><ellipse cx="26" cy="34.55" rx="1.5" ry="2.4" fill="#fff" opacity="0.95"/><path d="M27.7,32.05C28.4,33.95 28.4,36.95 26.5,37.35C25.8,37.45 25.3,37.25 25,36.85" fill="none" stroke="url(#dg)" stroke-width="1.3" stroke-linecap="round"/><ellipse cx="33.75" cy="29.55" rx="1.5" ry="2.4" fill="#fff" opacity="0.95"/><path d="M35.45,27.05C36.15,28.95 36.15,31.95 34.25,32.35C33.55,32.45 33.05,32.25 32.75,31.85" fill="none" stroke="url(#dg)" stroke-width="1.3" stroke-linecap="round"/><path d="M44.25,8.5L37.6,18.9L46.6,19.6L40.02,32.02" fill="none" stroke="#ee1c2e" stroke-width="1.8" stroke-linejoin="miter"/><polygon points="36.1,37.6 37.66,29.13 43.54,33.27" fill="#ee1c2e"/></svg></div>
<div id="l14" class="a t" style="left:406.30px;top:643.4px;letter-spacing:0.044px;">Пљусак и грмљавина</div>
<div class="ic" style="left:336.8px;top:673.2px;width:67.4px;"></div>
<div class="is" style="left:337px;top:673.2px;"><svg width="66" height="42" viewBox="0 0 66 42"><path d="M22.28,27.12A7.16,6.53 0 1 1 22.5,14.06A10.73,9.8 0 0 1 43.88,13.64A7.4,6.75 0 1 1 44.48,27.12Z" fill="url(#cg)" stroke="#1c647d" stroke-width="1.75" stroke-linejoin="round"/><path d="M22.5,14.06q-0.1,1.59 0.68,2.83" fill="none" stroke="#1c647d" stroke-width="1.49" stroke-linecap="round"/><ellipse cx="22.25" cy="35.05" rx="1.5" ry="2.4" fill="#fff" opacity="0.95"/><path d="M23.95,32.55C24.65,34.45 24.65,37.45 22.75,37.85C22.05,37.95 21.55,37.75 21.25,37.35" fill="none" stroke="url(#dg)" stroke-width="1.3" stroke-linecap="round"/><polygon points="30.95,36.25 34.6,30.65 41.9,30.65 45.55,36.25 41.9,41.85 34.6,41.85" fill="#e4f4f8" stroke="#6bbccc" stroke-width="1.1" stroke-linejoin="round"/><path d="M30.95,36.25H45.55M34.6,30.65L41.9,41.85M41.9,30.65L34.6,41.85M38.25,30.65V41.85" stroke="#6bbccc" stroke-width="0.8" fill="none"/><polygon points="34.45,36.25 36.35,33.34 40.15,33.34 42.05,36.25 40.15,39.16 36.35,39.16" fill="none" stroke="#6bbccc" stroke-width="0.8"/></svg></div>
<div id="l15" class="a t" style="left:406.30px;top:687.6px;letter-spacing:-0.120px;">Суснежица</div>
<div class="ic" style="left:336.8px;top:718.0px;width:67.4px;"></div>
<div class="is" style="left:337px;top:718.0px;"><svg width="66" height="42" viewBox="0 0 66 42"><path d="M22.27,26.62A7.1,6.45 0 1 1 22.49,13.74A10.65,9.67 0 0 1 43.7,13.32A7.34,6.66 0 1 1 44.29,26.62Z" fill="url(#cg)" stroke="#1c647d" stroke-width="1.75" stroke-linejoin="round"/><path d="M22.49,13.74q-0.1,1.57 0.67,2.79" fill="none" stroke="#1c647d" stroke-width="1.49" stroke-linecap="round"/><polygon points="16.6,35.1 20.25,29.5 27.55,29.5 31.2,35.1 27.55,40.7 20.25,40.7" fill="#e4f4f8" stroke="#6bbccc" stroke-width="1.1" stroke-linejoin="round"/><path d="M16.6,35.1H31.2M20.25,29.5L27.55,40.7M27.55,29.5L20.25,40.7M23.9,29.5V40.7" stroke="#6bbccc" stroke-width="0.8" fill="none"/><polygon points="20.1,35.1 22,32.19 25.8,32.19 27.7,35.1 25.8,38.01 22,38.01" fill="none" stroke="#6bbccc" stroke-width="0.8"/></svg></div>
<div id="l16" class="a t" style="left:406.30px;top:732.9px;letter-spacing:-0.089px;">Могућ снег</div>
<div class="ic" style="left:575.0px;top:451.0px;width:66.4px;"></div>
<div class="is" style="left:575px;top:451.0px;"><svg width="66" height="42" viewBox="0 0 66 42"><path d="M22.28,27.62A7.16,6.75 0 1 1 22.5,14.12A10.73,10.13 0 0 1 43.88,13.68A7.4,6.98 0 1 1 44.48,27.62Z" fill="url(#cg)" stroke="#1c647d" stroke-width="1.75" stroke-linejoin="round"/><path d="M22.5,14.12q-0.1,1.64 0.68,2.92" fill="none" stroke="#1c647d" stroke-width="1.49" stroke-linecap="round"/><polygon points="16.7,35.6 20.35,30 27.65,30 31.3,35.6 27.65,41.2 20.35,41.2" fill="#e4f4f8" stroke="#6bbccc" stroke-width="1.1" stroke-linejoin="round"/><path d="M16.7,35.6H31.3M20.35,30L27.65,41.2M27.65,30L20.35,41.2M24,30V41.2" stroke="#6bbccc" stroke-width="0.8" fill="none"/><polygon points="20.2,35.6 22.1,32.69 25.9,32.69 27.8,35.6 25.9,38.51 22.1,38.51" fill="none" stroke="#6bbccc" stroke-width="0.8"/><polygon points="33.8,35.6 37.45,30 44.75,30 48.4,35.6 44.75,41.2 37.45,41.2" fill="#e4f4f8" stroke="#6bbccc" stroke-width="1.1" stroke-linejoin="round"/><path d="M33.8,35.6H48.4M37.45,30L44.75,41.2M44.75,30L37.45,41.2M41.1,30V41.2" stroke="#6bbccc" stroke-width="0.8" fill="none"/><polygon points="37.3,35.6 39.2,32.69 43,32.69 44.9,35.6 43,38.51 39.2,38.51" fill="none" stroke="#6bbccc" stroke-width="0.8"/></svg></div>
<div id="l20" class="a t" style="left:643.80px;top:465.7px;letter-spacing:-0.089px;">Снег</div>
<div class="ic" style="left:575.0px;top:495.6px;width:66.4px;"></div>
<div class="is" style="left:575px;top:495.6px;"><svg width="66" height="42" viewBox="0 0 66 42"><path d="M22.38,25.18L22.38,12.46A10.04,9.79 0 0 1 42.43,11.78Q42.63,13.53 45.05,13.63A5.77,5.77 0 0 1 45.05,25.18Z" fill="url(#cgb)" stroke="#1c647d" stroke-width="1.85" stroke-linejoin="round"/><rect x="22.45" y="21.23" width="20.93" height="4.57" fill="#15809f"/><path d="M36.16,25.46A2.81,2.41 0 1 1 36.24,20.64A4.21,3.62 0 0 1 44.63,20.48A2.9,2.49 0 1 1 44.86,25.46Z" fill="url(#cgs)" stroke="url(#cs)" stroke-width="1.28" stroke-linejoin="round"/><path d="M14.91,25.3A4.21,3.82 0 1 1 15.04,17.66A6.32,5.73 0 0 1 27.62,17.41A4.35,3.95 0 1 1 27.97,25.3Z" fill="url(#cgf)" stroke="url(#cs)" stroke-width="1.6" stroke-linejoin="round"/><ellipse cx="24.9" cy="30.4" rx="1.5" ry="2.4" fill="#fff" opacity="0.95"/><path d="M26.6,27.9C27.3,29.8 27.3,32.8 25.4,33.2C24.7,33.3 24.2,33.1 23.9,32.7" fill="none" stroke="url(#dg)" stroke-width="1.3" stroke-linecap="round"/><ellipse cx="38.5" cy="30.4" rx="1.5" ry="2.4" fill="#fff" opacity="0.95"/><path d="M40.2,27.9C40.9,29.8 40.9,32.8 39,33.2C38.3,33.3 37.8,33.1 37.5,32.7" fill="none" stroke="url(#dg)" stroke-width="1.3" stroke-linecap="round"/><path d="M8.5,41.4q2.6,-3.4 5.6,-4q1.4,-3.6 4,-3.6q2.4,0.2 3.2,3q1.8,-0.8 3.4,0.6q1.4,-3.8 4.6,-3.8q2.6,0.4 3.2,3.6q3,-0.4 5.4,1q5.4,-0.8 9.8,0q4.6,0.6 7.6,2.8q-23,1.6 -46.8,0.4z" fill="#b6b8ba"/><ellipse cx="17.6" cy="37.2" rx="3.2" ry="2.6" fill="#f6f7f8"/><ellipse cx="24.8" cy="39.3" rx="3" ry="1.9" fill="#f8f8f9"/><ellipse cx="32.2" cy="37" rx="3.2" ry="2.6" fill="#f3f4f5"/><path d="M37.5,39.6q5,-0.9 9.4,-0.3q4,0.5 6.6,1.7l-17,0.3z" fill="#c6c7c9"/></svg></div>
<div id="l21" class="a t" style="left:643.80px;top:510.1px;letter-spacing:0.094px;">Киша која се леди</div>
<div class="ic" style="left:575.0px;top:540.3px;width:66.4px;"></div>
<div class="is" style="left:575px;top:540.3px;"><svg width="66" height="42" viewBox="0 0 66 42"><polygon points="33.5,7.4 35.73,9.68 38.6,8.3 39.91,11.2 43.08,10.89 43.32,14.06 46.4,14.85 45.54,17.92 48.17,19.71 46.31,22.3 48.17,24.89 45.54,26.68 46.4,29.75 43.32,30.54 43.08,33.71 39.91,33.4 38.6,36.3 35.73,34.92 33.5,37.2 31.27,34.92 28.4,36.3 27.09,33.4 23.92,33.71 23.68,30.54 20.6,29.75 21.46,26.68 18.83,24.89 20.69,22.3 18.83,19.71 21.46,17.92 20.6,14.85 23.68,14.06 23.92,10.89 27.09,11.2 28.4,8.3 31.27,9.68" fill="url(#rg)"/><circle cx="33.5" cy="22.3" r="10.8" fill="#f2fafe"/><rect x="17" y="14.1" width="33" height="18.1" fill="url(#fg)" opacity="0.9"/><circle cx="33.5" cy="22.3" r="10.5" fill="url(#fd)"/></svg></div>
<div id="l22" class="a t" style="left:643.80px;top:555.1px;letter-spacing:-0.244px;">Магла</div>
<div class="ic" style="left:575.0px;top:584.0px;width:66.4px;"></div>
<div class="is" style="left:575px;top:584.0px;"><svg width="66" height="42" viewBox="0 0 66 42"><path d="M18.1,0.65L11.9,7.85L37.4,30.6L34,34L54,38L47,20L43.6,23.4Z" fill="url(#wg)"/></svg></div>
<div id="l23" class="a t" style="left:643.80px;top:599.7px;letter-spacing:-0.214px;"><span style="font-family:'Liberation Sans',sans-serif;font-size:14.2px;">Ј</span>ак ветар</div>
<div class="ic" style="left:575.0px;top:628.6px;width:66.4px;"></div>
<div class="is" style="left:575px;top:628.6px;"><svg width="66" height="42" viewBox="0 0 66 42"><polygon points="45.25,2 46.8,3.79 48.92,2.73 49.68,4.97 52.04,4.81 51.88,7.17 54.12,7.93 53.06,10.05 54.85,11.6 53.06,13.15 54.12,15.27 51.88,16.03 52.04,18.39 49.68,18.23 48.92,20.47 46.8,19.41 45.25,21.2 43.7,19.41 41.58,20.47 40.82,18.23 38.46,18.39 38.62,16.03 36.38,15.27 37.44,13.15 35.65,11.6 37.44,10.05 36.38,7.93 38.62,7.17 38.46,4.81 40.82,4.97 41.58,2.73 43.7,3.79" fill="url(#sy)"/><circle cx="45.25" cy="11.6" r="8.16" fill="url(#so)"/><path d="M38.87,29.85A2.82,3.17 0 1 1 38.96,23.51A4.24,4.76 0 0 1 47.4,23.3A2.92,3.28 0 1 1 47.63,29.85Z" fill="url(#cgs)" stroke="url(#cs)" stroke-width="1.1" stroke-linejoin="round"/><path d="M17.53,29.7A5.08,5.29 0 1 1 17.69,19.13A7.62,7.93 0 0 1 32.88,18.79A5.25,5.46 0 1 1 33.3,29.7Z" fill="url(#cg)" stroke="url(#cs)" stroke-width="1.4" stroke-linejoin="round"/><ellipse cx="23.1" cy="37" rx="1.5" ry="2.4" fill="#fff" opacity="0.95"/><path d="M24.8,34.5C25.5,36.4 25.5,39.4 23.6,39.8C22.9,39.9 22.4,39.7 22.1,39.3" fill="none" stroke="url(#dg)" stroke-width="1.3" stroke-linecap="round"/></svg></div>
<div id="l24" class="a t" style="left:643.80px;top:643.4px;letter-spacing:0.027px;">Могући краткотрајни пљускови</div>
<div class="ic" style="left:575.0px;top:673.2px;width:66.4px;"></div>
<div class="is" style="left:575px;top:673.2px;"><svg width="66" height="42" viewBox="0 0 66 42"><path d="M23.54,24.97L23.54,12.94A9.38,9.26 0 0 1 42.28,12.29Q42.48,14.13 44.8,14.23A5.37,5.37 0 0 1 44.8,24.97Z" fill="url(#cgb)" stroke="#1c647d" stroke-width="1.85" stroke-linejoin="round"/><rect x="23.55" y="21.27" width="19.68" height="4.33" fill="#15809f"/><path d="M36.46,25.26A2.62,2.28 0 1 1 36.54,20.71A3.94,3.41 0 0 1 44.38,20.56A2.71,2.35 0 1 1 44.6,25.26Z" fill="url(#cgs)" stroke="url(#cs)" stroke-width="1.28" stroke-linejoin="round"/><path d="M16.49,25.1A3.94,3.61 0 1 1 16.61,17.88A5.91,5.41 0 0 1 28.39,17.65A4.07,3.73 0 1 1 28.71,25.1Z" fill="url(#cgf)" stroke="url(#cs)" stroke-width="1.6" stroke-linejoin="round"/><ellipse cx="16" cy="30.05" rx="1.5" ry="2.4" fill="#fff" opacity="0.95"/><path d="M17.7,27.55C18.4,29.45 18.4,32.45 16.5,32.85C15.8,32.95 15.3,32.75 15,32.35" fill="none" stroke="url(#dg)" stroke-width="1.3" stroke-linecap="round"/><ellipse cx="18.75" cy="36.3" rx="1.5" ry="2.4" fill="#fff" opacity="0.95"/><path d="M20.45,33.8C21.15,35.7 21.15,38.7 19.25,39.1C18.55,39.2 18.05,39 17.75,38.6" fill="none" stroke="url(#dg)" stroke-width="1.3" stroke-linecap="round"/><ellipse cx="25.6" cy="30.05" rx="1.5" ry="2.4" fill="#fff" opacity="0.95"/><path d="M27.3,27.55C28,29.45 28,32.45 26.1,32.85C25.4,32.95 24.9,32.75 24.6,32.35" fill="none" stroke="url(#dg)" stroke-width="1.3" stroke-linecap="round"/><path d="M30.4,29.6l-1.6,3.4M31.6,33l-1.6,3.4M28,35.6l-1.4,3" stroke="#ec1c2c" stroke-width="1" opacity="0.8" fill="none"/><path d="M42,31.3h8.5M43.5,34.3h8.5M38,37.3h9" stroke="#8eb3d6" stroke-width="1.5" stroke-linecap="round" opacity="0.85" fill="none"/><path d="M41.1,8.4L34.4,19.4L44.1,20.1L37.06,34.24" fill="none" stroke="#ee1c2e" stroke-width="1.8" stroke-linejoin="miter"/><polygon points="33,40.5 34.58,31.44 40.62,35.36" fill="#ee1c2e"/></svg></div>
<div id="l25" class="a t" style="left:643.80px;top:687.6px;letter-spacing:-0.286px;">Непогоде</div>
<div id="dash" class="a t" style="left:605.85px;top:732.9px;letter-spacing:0.000px;-webkit-text-stroke:0.3px #2d589f;">-</div>
<div id="l26" class="a t" style="left:643.80px;top:732.9px;letter-spacing:0.017px;">Подаци нису расположиви</div>
</body></html>
